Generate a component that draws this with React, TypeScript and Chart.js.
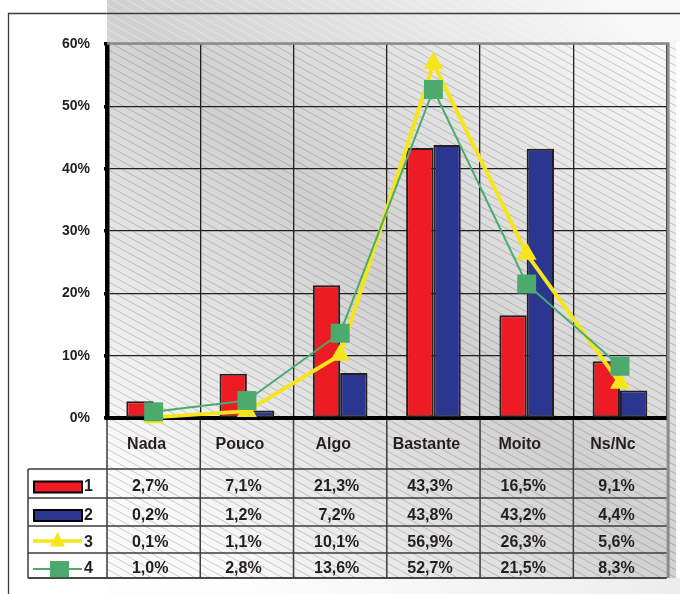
import { useEffect, useRef } from "react";
import { Chart, registerables } from "chart.js";

Chart.register(...registerables);

// ---- data ----
const categories = ["Nada", "Pouco", "Algo", "Bastante", "Moito", "Ns/Nc"];
const series1 = [2.7, 7.1, 21.3, 43.3, 16.5, 9.1];
const series2 = [0.2, 1.2, 7.2, 43.8, 43.2, 4.4];
const series3 = [0.1, 1.1, 10.1, 56.9, 26.3, 5.6];
const series4 = [1.0, 2.8, 13.6, 52.7, 21.5, 8.3];
const seriesNames = ["1", "2", "3", "4"];
const yMin = 0;
const yMax = 60;
const yStep = 10;

// ---- look ----
const W = 680;
const H = 594;
const FONT = '"Liberation Sans", Arial, Helvetica, sans-serif';
const INK = "#231f20";
const RED = "#ed1c24";
const BLUE = "#2b3691";
const YELLOW = "#f7e51b";
const GREEN = "#4caa6d";

// table geometry (rows under the plot)
const TABLE_LEFT = 28;
const ROW_LINES = [469, 498, 526, 553, 578];
const FRAME_EDGE = 676;

const fmt = (v: number) => v.toFixed(1).replace(".", ",") + "%";

function hatch(
  ctx: CanvasRenderingContext2D,
  x: number,
  y: number,
  w: number,
  h: number,
  color: string
) {
  const slope = 0.55;
  const gap = 8;
  ctx.save();
  ctx.beginPath();
  ctx.rect(x, y, w, h);
  ctx.clip();
  ctx.strokeStyle = color;
  ctx.lineWidth = 0.8;
  ctx.beginPath();
  const cStart = y - slope * (x + w) - gap;
  const cEnd = y + h - slope * x + gap;
  for (let c = cStart; c <= cEnd; c += gap) {
    ctx.moveTo(x, c + slope * x);
    ctx.lineTo(x + w, c + slope * (x + w));
  }
  ctx.stroke();
  ctx.restore();
}

const backdrop = {
  id: "backdrop",
  beforeDraw(chart: any) {
    const { ctx, chartArea } = chart;
    const L = chartArea.left;
    const T = chartArea.top;
    const tableBottom = ROW_LINES[ROW_LINES.length - 1];
    ctx.save();
    ctx.fillStyle = "#ffffff";
    ctx.fillRect(0, 0, W, H);

    const g = ctx.createLinearGradient(0, 350, 475, -125);
    g.addColorStop(0, "#fafafa");
    g.addColorStop(0.48, "#d0d0d0");
    g.addColorStop(1, "#f7f7f7");

    // strip above the plot
    ctx.fillStyle = g;
    ctx.fillRect(L, 0, W - L, T - 2);
    hatch(ctx, L, 0, W - L, T - 2, "rgba(255,255,255,0.45)");

    // plot + table panel
    ctx.fillStyle = g;
    ctx.fillRect(L, T - 2, FRAME_EDGE - L, tableBottom - T + 2);
    hatch(ctx, L, T - 2, FRAME_EDGE - L, tableBottom - T + 2, "rgba(60,60,60,0.3)");

    // strip below the table
    ctx.fillStyle = g;
    ctx.fillRect(L, tableBottom, W - L, H - tableBottom);
    ctx.fillStyle = "rgba(255,255,255,0.6)";
    ctx.fillRect(L, tableBottom, W - L, H - tableBottom);

    // outer frame
    ctx.strokeStyle = "#3a3a3a";
    ctx.lineWidth = 1.3;
    ctx.beginPath();
    ctx.moveTo(8.5, H);
    ctx.lineTo(8.5, 13.5);
    ctx.lineTo(W, 13.5);
    ctx.stroke();
    ctx.restore();
  },
};

const dataTable = {
  id: "dataTable",
  afterDraw(chart: any) {
    const { ctx, chartArea, scales } = chart;
    const x = scales.x;
    const L = chartArea.left;
    const R = chartArea.right;
    const B = chartArea.bottom;
    const T = chartArea.top;
    const colW = (R - L) / categories.length;
    const tableBottom = ROW_LINES[ROW_LINES.length - 1];

    ctx.save();

    // plot frame: top and right edges
    ctx.strokeStyle = "#8c8c8c";
    ctx.lineWidth = 2.5;
    ctx.beginPath();
    ctx.moveTo(L, T - 0.5);
    ctx.lineTo(R + 2, T - 0.5);
    ctx.stroke();
    ctx.lineWidth = 3;
    ctx.beginPath();
    ctx.moveTo(R + 1.5, T - 1.5);
    ctx.lineTo(R + 1.5, tableBottom);
    ctx.stroke();

    // table grid
    ctx.strokeStyle = "#3d3d3d";
    ctx.lineWidth = 1.5;
    ctx.beginPath();
    ROW_LINES.forEach((y) => {
      ctx.moveTo(TABLE_LEFT, y);
      ctx.lineTo(R, y);
    });
    ctx.moveTo(TABLE_LEFT, ROW_LINES[0]);
    ctx.lineTo(TABLE_LEFT, tableBottom);
    for (let i = 0; i < categories.length; i++) {
      const cx = L + i * colW;
      ctx.moveTo(cx, B + 2);
      ctx.lineTo(cx, tableBottom);
    }
    ctx.stroke();

    // header row: category names
    ctx.fillStyle = INK;
    ctx.font = `bold 16px ${FONT}`;
    ctx.textAlign = "center";
    ctx.textBaseline = "alphabetic";
    const headerMid = (B + ROW_LINES[0]) / 2;
    categories.forEach((c, i) => {
      ctx.fillText(c, x.getPixelForValue(i) - 7, headerMid + 5.2);
    });

    // value rows
    const allSeries = [series1, series2, series3, series4];
    allSeries.forEach((s, r) => {
      const mid = (ROW_LINES[r] + ROW_LINES[r + 1]) / 2;
      s.forEach((v, i) => {
        ctx.textAlign = "center";
        ctx.fillText(fmt(v), x.getPixelForValue(i) - 3.5, mid + 7.5);
      });
      ctx.textAlign = "left";
      ctx.fillText(seriesNames[r], 84, mid + 7.5);
    });

    // legend keys
    const mids = allSeries.map((_, r) => (ROW_LINES[r] + ROW_LINES[r + 1]) / 2);
    const kx0 = 34;
    const kx1 = 82;
    [RED, BLUE].forEach((col, r) => {
      const cy = mids[r] + 3.5;
      ctx.fillStyle = col;
      ctx.fillRect(kx0, cy - 5.5, kx1 - kx0, 11);
      ctx.strokeStyle = "#000";
      ctx.lineWidth = 2;
      ctx.strokeRect(kx0, cy - 5.5, kx1 - kx0, 11);
    });
    {
      const cy = mids[2] + 1.5;
      ctx.strokeStyle = YELLOW;
      ctx.lineWidth = 3.5;
      ctx.beginPath();
      ctx.moveTo(kx0 - 1, cy);
      ctx.lineTo(kx1, cy);
      ctx.stroke();
      ctx.fillStyle = YELLOW;
      ctx.beginPath();
      ctx.moveTo(57.5, cy - 9);
      ctx.lineTo(65, cy + 5.5);
      ctx.lineTo(50, cy + 5.5);
      ctx.closePath();
      ctx.fill();
    }
    {
      const cy = mids[3] + 3.5;
      ctx.strokeStyle = GREEN;
      ctx.lineWidth = 2;
      ctx.beginPath();
      ctx.moveTo(kx0 - 1, cy);
      ctx.lineTo(kx1, cy);
      ctx.stroke();
      ctx.save();
      ctx.beginPath();
      ctx.rect(0, ROW_LINES[3] + 1, W, tableBottom - ROW_LINES[3] - 1);
      ctx.clip();
      ctx.fillStyle = GREEN;
      ctx.fillRect(50, cy - 8, 19, 19);
      ctx.restore();
      ctx.strokeStyle = "#3d3d3d";
      ctx.lineWidth = 1.5;
      ctx.beginPath();
      ctx.moveTo(TABLE_LEFT, tableBottom);
      ctx.lineTo(R, tableBottom);
      ctx.stroke();
    }

    ctx.restore();
  },
};

export default function App() {
  const ref = useRef<HTMLCanvasElement | null>(null);

  useEffect(() => {
    const canvas = ref.current;
    if (!canvas) return;
    const chart = new Chart(canvas, {
      type: "bar",
      data: {
        labels: categories,
        datasets: [
          {
            type: "line",
            label: seriesNames[3],
            data: series4,
            borderColor: GREEN,
            backgroundColor: GREEN,
            borderWidth: 2,
            pointStyle: "rect",
            pointRadius: 13.4,
            pointBackgroundColor: GREEN,
            pointBorderWidth: 0,
            tension: 0,
            fill: false,
            clip: false,
            order: 0,
          } as any,
          {
            type: "line",
            label: seriesNames[2],
            data: series3,
            borderColor: YELLOW,
            backgroundColor: YELLOW,
            borderWidth: 4,
            pointStyle: "triangle",
            pointRadius: 11.5,
            pointBackgroundColor: YELLOW,
            pointBorderWidth: 0,
            tension: 0,
            fill: false,
            clip: false,
            order: 1,
          } as any,
          {
            type: "bar",
            label: seriesNames[0],
            data: series1,
            backgroundColor: RED,
            borderColor: INK,
            borderWidth: 2,
            borderSkipped: false,
            categoryPercentage: 0.586,
            barPercentage: 1,
            order: 2,
          } as any,
          {
            type: "bar",
            label: seriesNames[1],
            data: series2,
            backgroundColor: BLUE,
            borderColor: INK,
            borderWidth: 2,
            borderSkipped: false,
            categoryPercentage: 0.586,
            barPercentage: 1,
            order: 2,
          } as any,
        ],
      },
      options: {
        responsive: false,
        animation: false,
        devicePixelRatio: 1,
        layout: { padding: { left: 0, top: 44, right: 7, bottom: 0 } },
        plugins: {
          legend: { display: false },
          tooltip: { enabled: false },
        },
        scales: {
          x: {
            type: "category",
            offset: true,
            grid: {
              offset: true,
              color: INK,
              lineWidth: 1.3,
              drawTicks: false,
            },
            border: { display: true, color: "#000", width: 4 },
            ticks: { display: false },
            afterFit: (s: any) => {
              s.height = 176;
            },
          },
          y: {
            min: yMin,
            max: yMax,
            ticks: {
              stepSize: yStep,
              callback: (v: any) => `${v}%`,
              color: INK,
              font: { family: FONT, size: 14, weight: "bold" },
              padding: 14,
            },
            grid: {
              color: INK,
              lineWidth: 1.3,
              drawTicks: true,
              tickLength: 3,
              tickWidth: 3.5,
              tickColor: "#000",
            },
            border: { display: true, color: "#000", width: 4.5 },
            afterFit: (s: any) => {
              s.width = 107;
            },
          },
        },
      } as any,
      plugins: [backdrop, dataTable],
    });
    return () => chart.destroy();
  }, []);

  return (
    <div style={{ position: "absolute", left: 0, top: 0, width: W, height: H }}>
      <canvas ref={ref} width={W} height={H} style={{ display: "block" }} />
    </div>
  );
}
